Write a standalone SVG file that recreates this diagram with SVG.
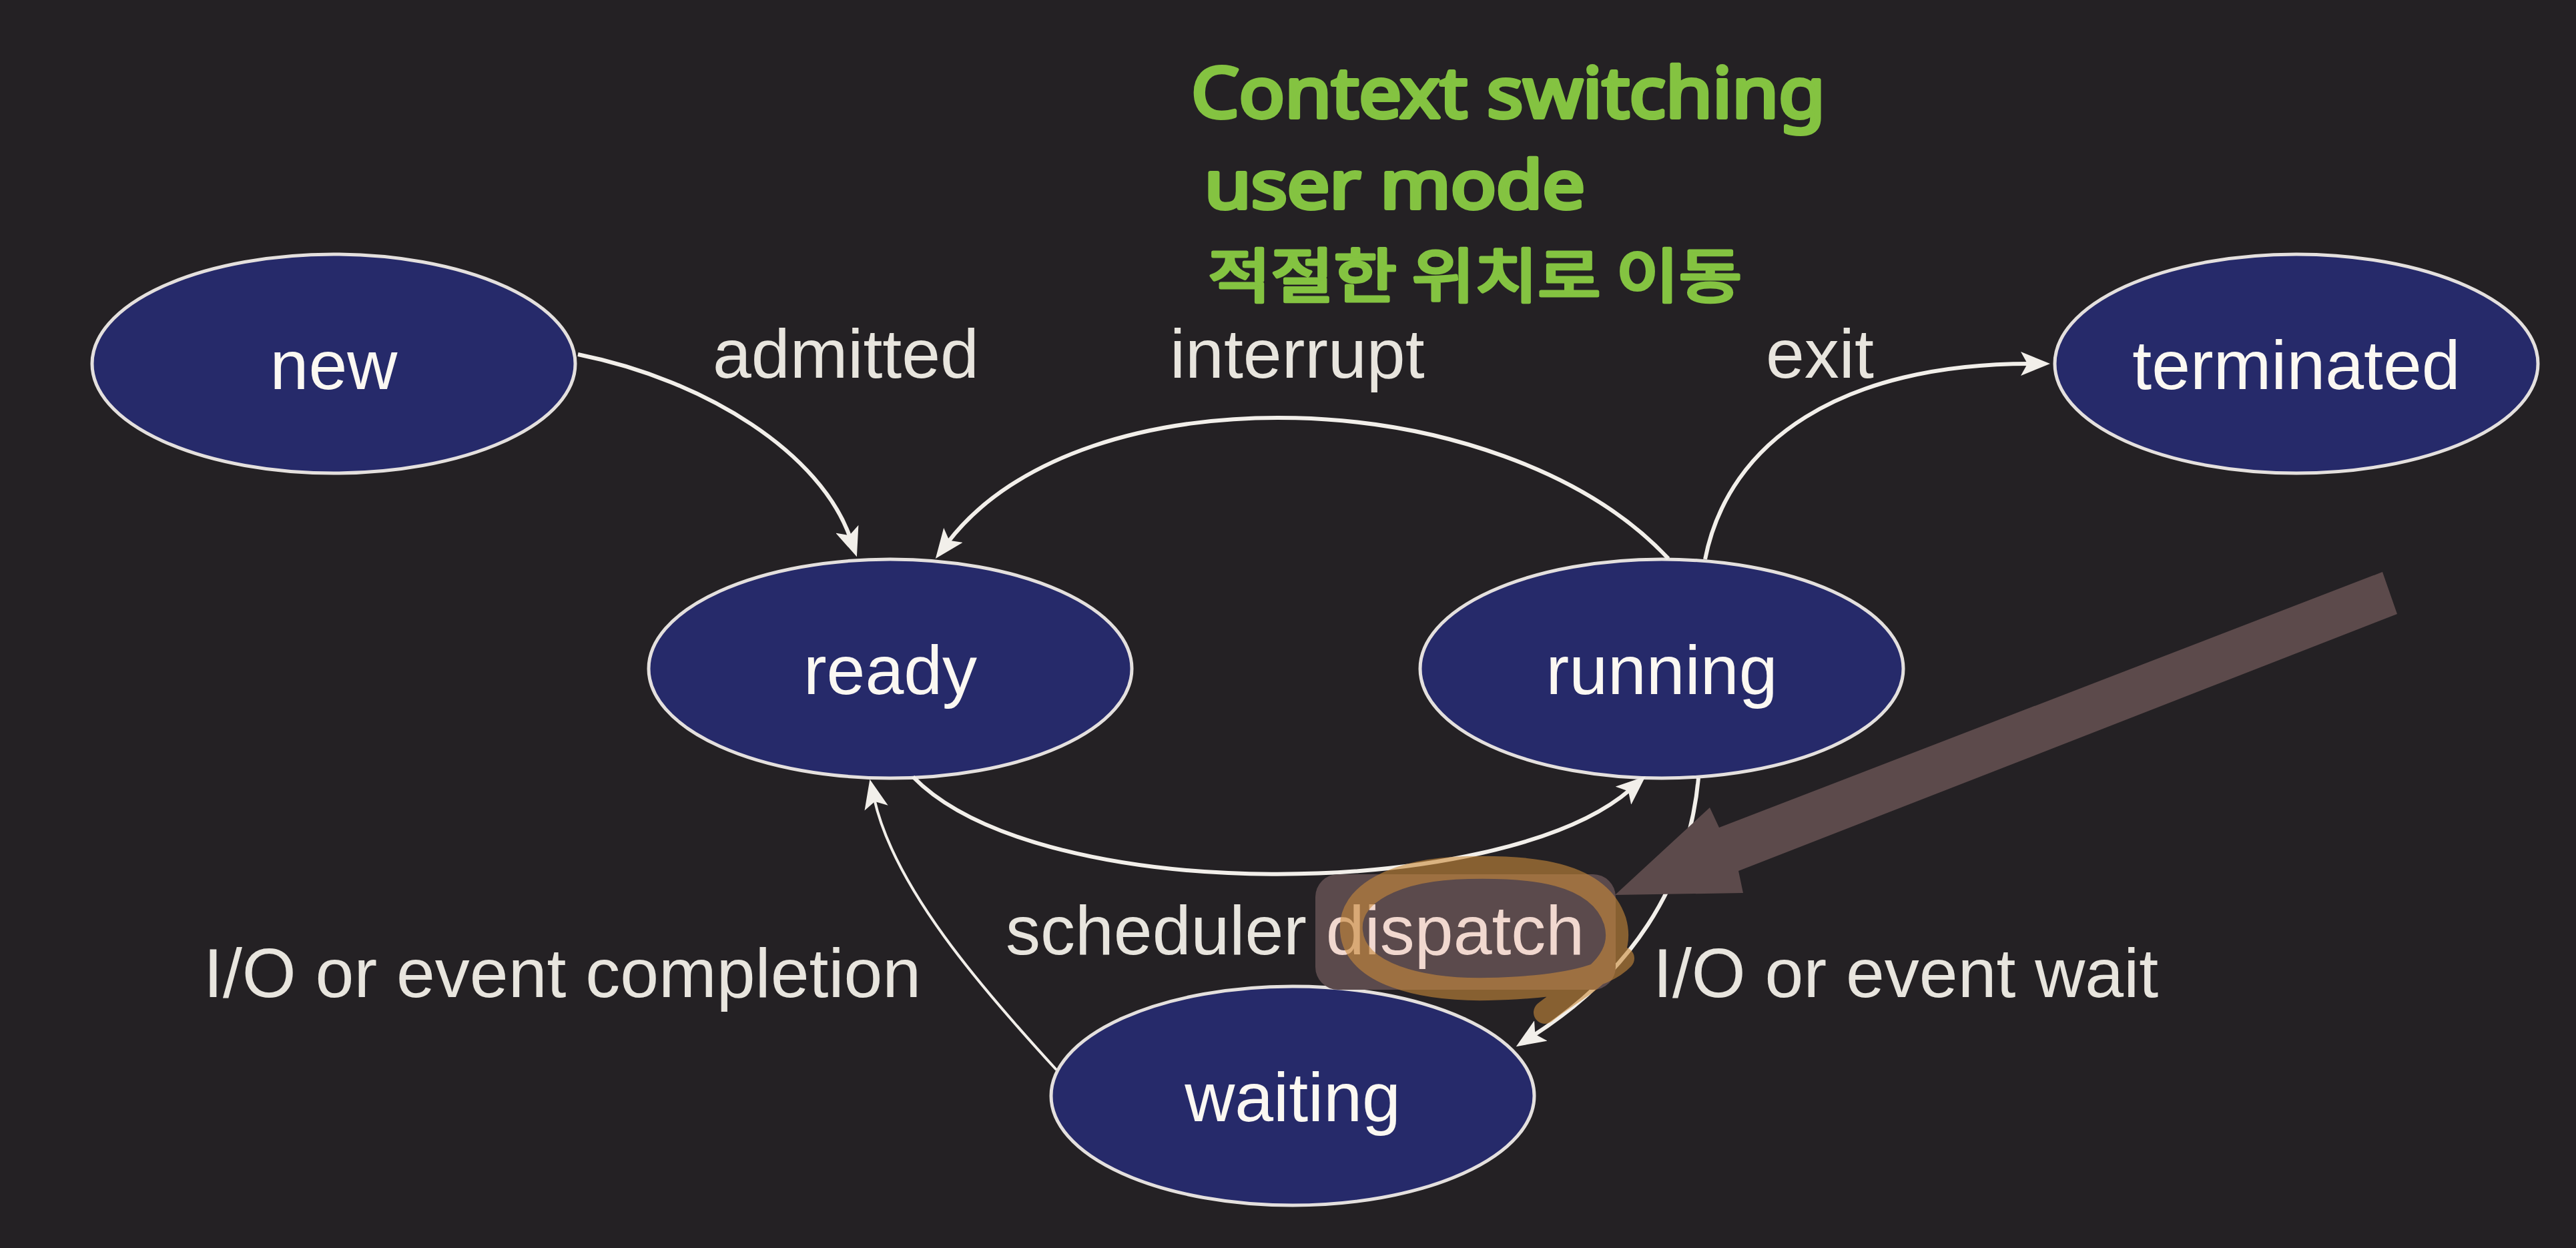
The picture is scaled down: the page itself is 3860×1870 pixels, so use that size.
<svg xmlns="http://www.w3.org/2000/svg" width="3860" height="1870" viewBox="0 0 3860 1870">
  <style>
    .node ellipse { fill: #262a6a; stroke: #e4e0de; stroke-width: 5; }
    .node text { font-family: "Liberation Sans", Arial, sans-serif; font-size: 104px; fill: #fbf8f2; text-anchor: middle; }
    .lbl { font-family: "Liberation Sans", Arial, sans-serif; font-size: 104px; fill: #e8e5de; }
    .edge { fill: none; stroke: #f2efea; stroke-width: 6; marker-end: url(#arr); }
    .edge.thin { stroke-width: 4; }
    .hand { font-family: "Noto Sans", "Noto Sans CJK KR", sans-serif; fill: #84c341; stroke: #84c341; stroke-width: 6; stroke-linejoin: round; font-weight: 400; }
    .handkr { font-family: "Noto Sans CJK KR", sans-serif; fill: #84c341; stroke: #84c341; stroke-width: 5; stroke-linejoin: round; font-weight: 400; }
  </style>
  <defs>
    <marker id="arr" markerUnits="userSpaceOnUse" viewBox="0 0 44 36" markerWidth="44" markerHeight="36" refX="14" refY="18" orient="auto">
      <path d="M0,0 L44,18 L0,36 L10,18 z" fill="#f2efea"/>
    </marker>
  </defs>
  <rect width="3860" height="1870" fill="#242124"/>

  <!-- handwritten annotation -->
  <g id="annotation-text">
    <text class="hand" x="1785" y="176" font-size="105" textLength="950" lengthAdjust="spacingAndGlyphs">Context switching</text>
    <text class="hand" x="1805" y="312" font-size="98" textLength="570" lengthAdjust="spacingAndGlyphs">user mode</text>
    <text class="handkr" x="1810" y="445" font-size="88" textLength="800" lengthAdjust="spacingAndGlyphs">적절한 위치로 이동</text>
  </g>

  <g id="node-new" class="node">
    <ellipse cx="500" cy="545" rx="362" ry="164"/>
    <text x="500" y="583">new</text>
  </g>
  <g id="node-ready" class="node">
    <ellipse cx="1334" cy="1002" rx="362" ry="164"/>
    <text x="1334" y="1040">ready</text>
  </g>
  <g id="node-running" class="node">
    <ellipse cx="2490" cy="1002" rx="362" ry="164"/>
    <text x="2490" y="1040">running</text>
  </g>
  <g id="node-terminated" class="node">
    <ellipse cx="3441" cy="545" rx="362" ry="164"/>
    <text x="3441" y="583">terminated</text>
  </g>
  <g id="node-waiting" class="node">
    <ellipse cx="1937" cy="1642" rx="362" ry="164"/>
    <text x="1937" y="1680">waiting</text>
  </g>

  <g id="connectors">
    <path class="edge" d="M866,531 C1060,570 1230,680 1274,806"/>
    <path class="edge" d="M2500,837 C2250,570 1620,550 1420,813"/>
    <path class="edge" d="M2555,838 C2590,660 2760,545 3042,545"/>
    <path class="edge" d="M1368,1164 C1560,1360 2250,1350 2443,1183"/>
    <path class="edge" d="M2545,1166 C2530,1330 2440,1460 2297,1552"/>
    <path class="edge thin" d="M1583,1603 C1470,1480 1340,1330 1310,1197"/>
  </g>

  <g id="highlight-box">
    <rect x="1971" y="1310" width="450" height="173" rx="34" fill="#5b4a4c"/>
  </g>

  <g id="edge-labels">
    <text class="lbl" x="1068" y="566">admitted</text>
    <text class="lbl" x="1753" y="566">interrupt</text>
    <text class="lbl" x="2646" y="566">exit</text>
    <text class="lbl" x="305" y="1494">I/O or event completion</text>
    <text class="lbl" x="1507" y="1430">scheduler <tspan fill="#f1d8cf">dispatch</tspan></text>
    <text class="lbl" x="2477" y="1494">I/O or event wait</text>
  </g>

  <g id="highlight-marks">
    <path d="M2315,1517 C2360,1480 2440,1450 2420,1380 C2395,1305 2290,1298 2200,1300 C2090,1302 2020,1340 2025,1395 C2030,1460 2130,1484 2230,1482 C2320,1480 2400,1470 2432,1436" fill="none" stroke="#c98a3a" stroke-width="34" stroke-linecap="round" opacity="0.6"/>
    <polygon points="3570,857 3592,920 2605,1305 2612,1338 2420,1341 2562,1210 2576,1240" fill="#5c4a4b"/>
  </g>
</svg>
